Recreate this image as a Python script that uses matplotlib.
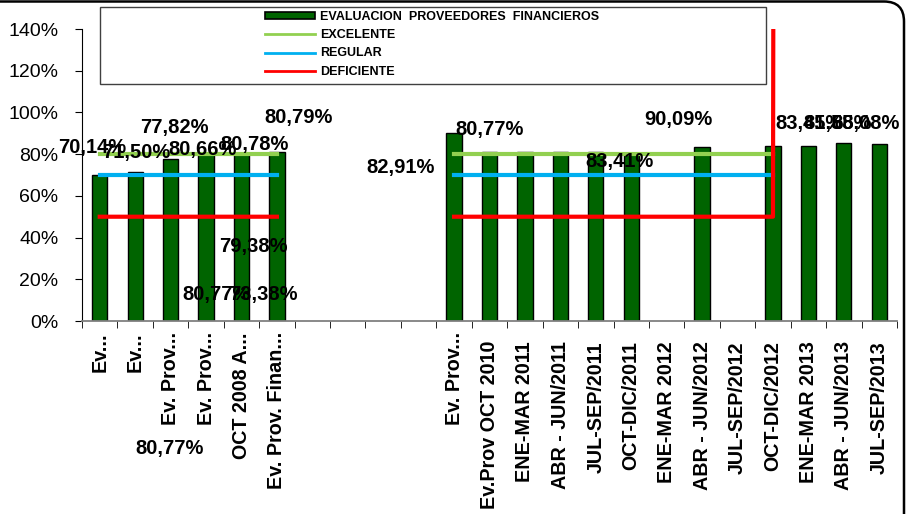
import numpy as np
import matplotlib
matplotlib.use('Agg')
import matplotlib.pyplot as plt
from matplotlib.patches import Rectangle, FancyBboxPatch, Patch
from matplotlib.lines import Line2D
from matplotlib.ticker import FuncFormatter
from matplotlib.transforms import IdentityTransform, ScaledTranslation

plt.rcParams['font.family'] = ['Liberation Sans', 'DejaVu Sans']

nan = np.nan

# Category labels (as truncated in the original chart)
categories = ["Ev...", "Ev...", "Ev. Prov...", "Ev. Prov...", "OCT 2008 A...",
              "Ev. Prov. Finan...", "", "", "", "", "Ev. Prov...",
              "Ev.Prov OCT 2010", "ENE-MAR 2011", "ABR - JUN/2011",
              "JUL-SEP/2011", "OCT-DIC/2011", "ENE-MAR 2012", "ABR - JUN/2012",
              "JUL-SEP/2012", "OCT-DIC/2012", "ENE-MAR 2013", "ABR - JUN/2013",
              "JUL-SEP/2013"]

# Bar series (percent)
evaluacion = [70.14, 71.50, 77.82, 80.66, 80.78, 80.79, nan, nan, nan, nan,
              90.09, 80.8, 80.8, 80.8, 80.8, 80.7, nan, 83.41, nan,
              84.1, 84.0, 85.58, 85.08]

# Reference lines (percent)
excelente = [80, 80, 80, 80, 80, 80, nan, nan, nan, nan,
             80, 80, 80, 80, 80, 80, 80, 80, 80, 80, nan, nan, nan]
regular = [70, 70, 70, 70, 70, 70, nan, nan, nan, nan,
           70, 70, 70, 70, 70, 70, 70, 70, 70, 70, nan, nan, nan]
deficiente = [50, 50, 50, 50, 50, 50, nan, nan, nan, nan,
              50, 50, 50, 50, 50, 50, 50, 50, 50, 50, 10000, nan, nan]

# Scattered data labels as they sit in the original
label_texts = ["70,14%", "71,50%", "77,82%", "80,66%", "80,78%", "80,79%",
               "82,91%", "79,38%", "80,77%", "73,38%", "80,77%", "80,77%",
               "90,09%", "83,41%", "83,41%", "85,58%", "85,08%"]
label_x = [-0.22, 1.02, 2.12, 2.89, 4.38, 5.62, 8.50, 4.33, 3.31, 4.61, 1.98,
           11.01, 16.32, 14.68, 20.04, 20.83, 21.6]
label_y = [83.4, 81.0, 93.0, 82.0, 84.4, 97.8, 73.4, 35.5, 12.9, 12.9, -60.9,
           91.6, 96.8, 76.7, 94.9, 94.9, 94.9]

fig, ax = plt.subplots(figsize=(9.06, 5.14), dpi=100)
fig.subplots_adjust(left=82/906, right=897/906, bottom=1-321/514, top=1-29/514)

x = np.arange(len(categories))

# Bars
ax.bar(x, evaluacion, width=0.43, color='#006400', edgecolor='black',
       linewidth=1, zorder=2)

# Lines
ax.plot(x, excelente, color='#92D050', linewidth=3, zorder=3)
ax.plot(x, regular, color='#00B0F0', linewidth=3, zorder=3)
ax.plot(x, deficiente, color='#FF0000', linewidth=3, zorder=3)

# Data labels
for t, lx, ly in zip(label_texts, label_x, label_y):
    ax.text(lx, ly, t, ha='center', va='center', fontsize=14.5,
            fontweight='bold', clip_on=False, zorder=4)

# Axes
ax.set_xlim(-0.5, len(categories) - 0.5)
ax.set_ylim(0, 140)
ax.set_yticks(range(0, 141, 20))
ax.yaxis.set_major_formatter(FuncFormatter(lambda v, p: f"{v:.0f}%"))
ax.tick_params(axis='y', labelsize=14, length=5, pad=12, direction='out')

ax.set_xticks(x)
ax.set_xticklabels(categories, rotation=90, fontsize=14.2, fontweight='bold')
ax.set_xticks(np.arange(-0.5, len(categories)), minor=True)
ax.tick_params(axis='x', which='major', length=0, pad=8)
ax.tick_params(axis='x', which='minor', length=5, direction='out')

# full labels sit a bit lower than the truncated ones
shift = ScaledTranslation(0, -9/100, fig.dpi_scale_trans)
for lbl in ax.get_xticklabels():
    if not lbl.get_text().endswith('...'):
        lbl.set_transform(lbl.get_transform() + shift)

ax.spines['top'].set_visible(False)
ax.spines['right'].set_visible(False)
ax.spines['bottom'].set_color('#808080')
ax.spines['bottom'].set_linewidth(1.3)

# Legend with its own wide box
fig.add_artist(Rectangle((100/906, 1-84/514), 666/906, 77/514,
                         transform=fig.transFigure, facecolor='white',
                         edgecolor='#404040', linewidth=1, zorder=3))
handles = [Patch(facecolor='#006400', edgecolor='black', linewidth=1.2),
           Line2D([], [], color='#92D050', linewidth=2),
           Line2D([], [], color='#00B0F0', linewidth=2),
           Line2D([], [], color='#FF0000', linewidth=2)]
labels = ["EVALUACION  PROVEEDORES  FINANCIEROS", "EXCELENTE", "REGULAR",
          "DEFICIENTE"]
leg = fig.legend(handles, labels, loc='upper left',
                 bbox_to_anchor=(265/906, 1-11/514), frameon=False,
                 borderpad=0, borderaxespad=0, handlelength=4.0,
                 handleheight=0.5, handletextpad=0.4, labelspacing=0.5,
                 prop={'size': 9, 'weight': 'bold'})
leg.set_zorder(4)

# Rounded chart border (only top and right edges fall inside the picture)
fig.add_artist(FancyBboxPatch((-60, -60), 964, 572.5,
                              boxstyle='round,pad=0,rounding_size=20',
                              transform=IdentityTransform(), facecolor='none',
                              edgecolor='black', linewidth=1.8, zorder=5))

fig.savefig('out.png', dpi=100)
